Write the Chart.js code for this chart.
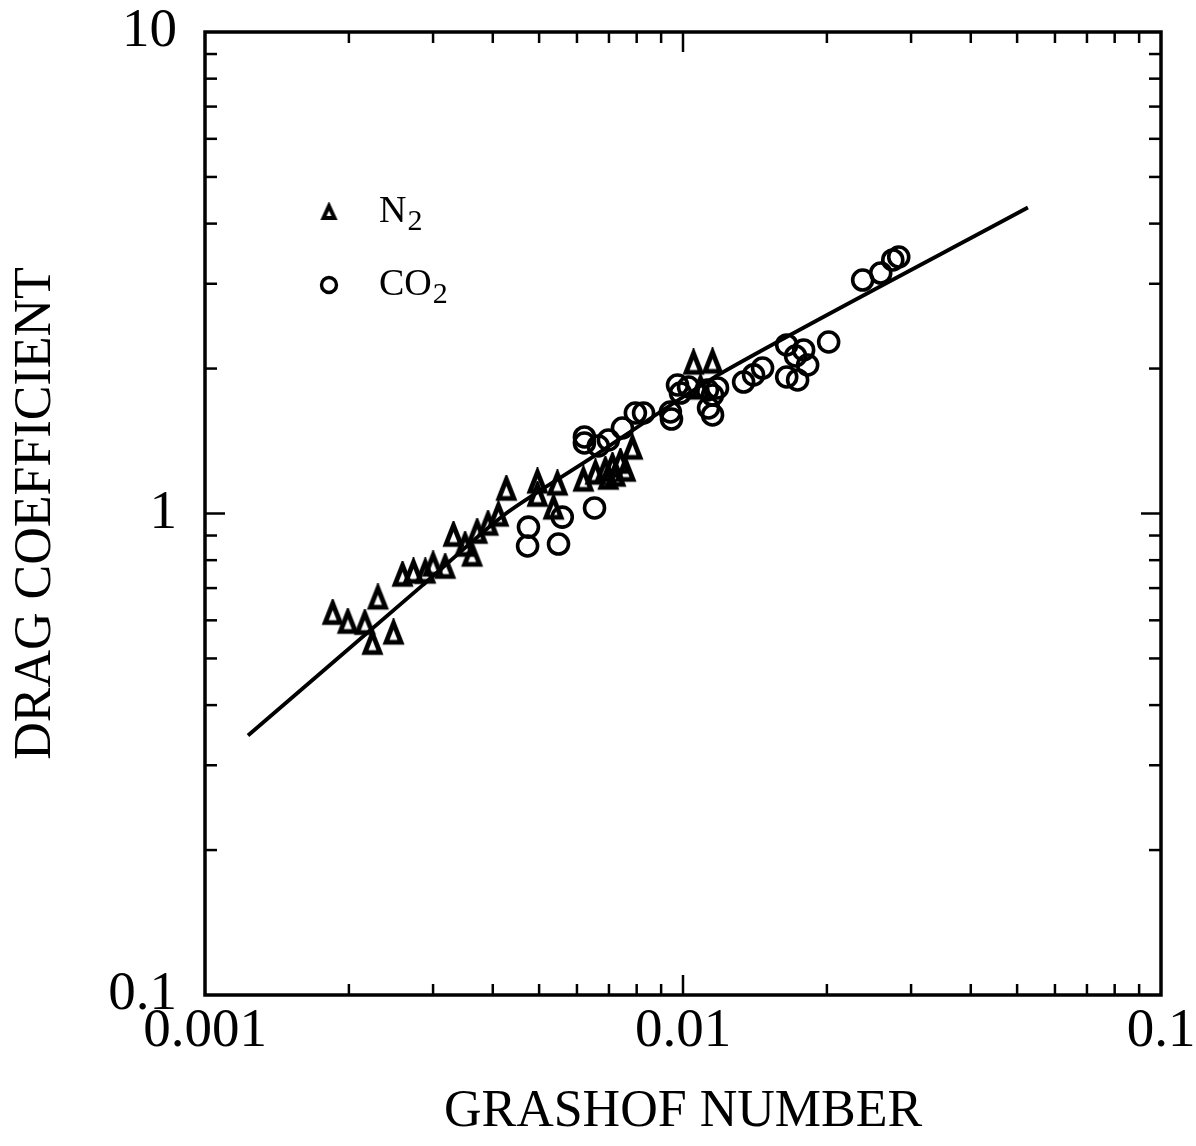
<!DOCTYPE html>
<html>
<head>
<meta charset="utf-8">
<script src="https://cdn.jsdelivr.net/npm/chart.js@4.4.1/dist/chart.umd.min.js"></script>
<style>
  html, body { margin: 0; padding: 0; background: #fff; }
  #wrap { width: 1196px; height: 1146px; position: relative; }
</style>
</head>
<body>
<div id="wrap"><canvas id="c"></canvas></div>
<script>
// axis ticks (log scales)
const xTickLabels = [0.001, 0.01, 0.1];
const yTickLabels = [0.1, 1, 10];
const xMinorTicks = [0.002, 0.003, 0.004, 0.005, 0.006, 0.007, 0.008, 0.009,
                     0.02, 0.03, 0.04, 0.05, 0.06, 0.07, 0.08, 0.09];
const yMinorTicks = [0.2, 0.3, 0.4, 0.5, 0.6, 0.7, 0.8, 0.9,
                     2, 3, 4, 5, 6, 7, 8, 9];
const xMajorInner = [0.01];
const yMajorInner = [1];

// N2 measurements (triangles)
const n2Grashof = [0.00185, 0.00199, 0.00216, 0.00224, 0.00230, 0.00248, 0.00259, 0.00273,
                   0.00289, 0.00300, 0.00318, 0.00331, 0.00350, 0.00362, 0.00371, 0.00391,
                   0.00411, 0.00427, 0.00496, 0.00496, 0.00546, 0.00536, 0.00619, 0.00656,
                   0.00688, 0.00712, 0.00740, 0.00784, 0.01052, 0.01153, 0.00722, 0.00758,
                   0.00698, 0.01088];
const n2Drag = [0.621, 0.595, 0.592, 0.538, 0.668, 0.565, 0.745, 0.756,
                0.756, 0.782, 0.774, 0.902, 0.860, 0.820, 0.915, 0.951,
                0.993, 1.124, 1.163, 1.092, 1.152, 1.027, 1.174, 1.214,
                1.231, 1.255, 1.279, 1.368, 2.054, 2.064, 1.202, 1.231,
                1.185, 1.823];

// CO2 measurements (circles)
const co2Grashof = [0.00475, 0.00473, 0.00559, 0.00549, 0.00653, 0.00622, 0.00622, 0.00665,
                    0.00698, 0.00747, 0.00795, 0.00827, 0.00941, 0.00946, 0.00974, 0.00988,
                    0.01027, 0.01125, 0.01153, 0.01181, 0.01131, 0.01153, 0.01339, 0.01405,
                    0.01467, 0.01648, 0.01648, 0.01737, 0.01720, 0.01788, 0.01823, 0.02017,
                    0.02376, 0.02592, 0.02747, 0.02827];
const co2Drag = [0.937, 0.856, 0.983, 0.864, 1.027, 1.442, 1.401, 1.381,
                 1.421, 1.505, 1.617, 1.617, 1.625, 1.571, 1.849, 1.779,
                 1.831, 1.805, 1.762, 1.823, 1.656, 1.602, 1.875, 1.940,
                 2.005, 2.239, 1.921, 1.894, 2.124, 2.186, 2.034, 2.271,
                 3.054, 3.158, 3.362, 3.410];

// fitted curve
const fitGrashof = [0.00123, 0.00285, 0.00421, 0.00631, 0.01198, 0.05267];
const fitDrag = [0.346, 0.709, 0.991, 1.289, 1.953, 4.320];

const FONT = '"Liberation Serif", "DejaVu Serif", serif';
Chart.defaults.font.family = FONT;
Chart.defaults.color = '#000';

function triangleImage(w, h, lw) {
  const c = document.createElement('canvas');
  c.width = Math.ceil(w + lw * 2);
  c.height = Math.ceil(h + lw * 2);
  const g = c.getContext('2d');
  g.strokeStyle = '#000';
  g.lineWidth = lw;
  g.lineJoin = 'miter';
  g.beginPath();
  g.moveTo(c.width / 2, lw);
  g.lineTo(c.width / 2 + w / 2, lw + h);
  g.lineTo(c.width / 2 - w / 2, lw + h);
  g.closePath();
  g.stroke();
  return c;
}
const triMark = triangleImage(15, 19, 4.8);
const triLegend = triangleImage(11, 12, 4);

const toPts = (xs, ys) => xs.map((x, i) => ({ x, y: ys[i] }));

function tickLine(ctx, x1, y1, x2, y2) {
  ctx.beginPath();
  ctx.moveTo(x1, y1);
  ctx.lineTo(x2, y2);
  ctx.stroke();
}

// frame with inward ticks on all four sides
const frameTicks = {
  id: 'frameTicks',
  afterDatasetsDraw(chart) {
    const { ctx, chartArea: a, scales: { x, y } } = chart;
    ctx.save();
    ctx.strokeStyle = '#000';
    ctx.lineWidth = 2.5;
    xMinorTicks.forEach(v => {
      const px = x.getPixelForValue(v);
      tickLine(ctx, px, a.bottom, px, a.bottom - 11);
      tickLine(ctx, px, a.top, px, a.top + 11);
    });
    xMajorInner.forEach(v => {
      const px = x.getPixelForValue(v);
      tickLine(ctx, px, a.bottom, px, a.bottom - 20);
      tickLine(ctx, px, a.top, px, a.top + 20);
    });
    yMinorTicks.forEach(v => {
      const py = y.getPixelForValue(v);
      tickLine(ctx, a.left, py, a.left + 12, py);
      tickLine(ctx, a.right, py, a.right - 12, py);
    });
    yMajorInner.forEach(v => {
      const py = y.getPixelForValue(v);
      tickLine(ctx, a.left, py, a.left + 20, py);
      tickLine(ctx, a.right, py, a.right - 20, py);
    });
    ctx.lineWidth = 3.5;
    ctx.strokeRect(a.left, a.top, a.width, a.height);
    ctx.restore();
  }
};

// legend with subscripted digits
const legendBox = {
  id: 'legendBox',
  afterDraw(chart) {
    const { ctx, chartArea: a } = chart;
    const rows = chart.data.datasets.filter(d => d.inLegend);
    ctx.save();
    ctx.fillStyle = '#000';
    ctx.textBaseline = 'middle';
    rows.forEach((d, i) => {
      const mx = a.left + 124;
      const my = a.top + 180 + i * 73;
      if (d.legendMark === 'tri') {
        ctx.drawImage(triLegend, mx - triLegend.width / 2, my - triLegend.height / 2);
      } else {
        ctx.lineWidth = 3.4;
        ctx.strokeStyle = '#000';
        ctx.beginPath();
        ctx.arc(mx, my, 7.5, 0, Math.PI * 2);
        ctx.stroke();
      }
      const m = d.label.match(/^([A-Za-z]+)(\d*)$/);
      ctx.font = '38px ' + FONT;
      const tx = mx + 50;
      ctx.fillText(m[1], tx, my);
      const w = ctx.measureText(m[1]).width;
      ctx.font = '30px ' + FONT;
      ctx.fillText(m[2], tx + w + 1, my + 10);
    });
    ctx.restore();
  }
};

new Chart(document.getElementById('c'), {
  type: 'scatter',
  data: {
    datasets: [
      {
        label: 'fit',
        data: toPts(fitGrashof, fitDrag),
        showLine: true,
        borderColor: '#000',
        borderWidth: 3.8,
        pointRadius: 0,
        tension: 0.25,
        order: 3
      },
      {
        label: 'N2',
        inLegend: true,
        legendMark: 'tri',
        data: toPts(n2Grashof, n2Drag),
        pointStyle: triMark,
        pointRadius: 10,
        order: 2
      },
      {
        label: 'CO2',
        inLegend: true,
        legendMark: 'circ',
        data: toPts(co2Grashof, co2Drag),
        pointStyle: 'circle',
        pointRadius: 10,
        borderWidth: 3.6,
        borderColor: '#000',
        backgroundColor: 'rgba(0,0,0,0)',
        order: 1
      }
    ]
  },
  options: {
    responsive: true,
    maintainAspectRatio: false,
    animation: false,
    layout: { padding: { top: 32, right: 35, left: 0, bottom: 0 } },
    plugins: { legend: { display: false }, tooltip: { enabled: false } },
    scales: {
      x: {
        type: 'logarithmic',
        min: 0.001,
        max: 0.1,
        afterBuildTicks: s => { s.ticks = xTickLabels.map(v => ({ value: v })); },
        afterFit: s => { s.height = 151; s.paddingLeft = 0; s.paddingRight = 0; },
        ticks: {
          callback: v => String(v),
          autoSkip: false,
          maxRotation: 0,
          padding: 9,
          font: { size: 55, lineHeight: 1 }
        },
        grid: { display: false, drawTicks: false },
        border: { display: false },
        title: {
          display: true,
          text: 'GRASHOF NUMBER',
          font: { size: 52, lineHeight: 1.2 },
          padding: { top: 0, bottom: 2 }
        }
      },
      y: {
        type: 'logarithmic',
        min: 0.1,
        max: 10,
        afterBuildTicks: s => { s.ticks = yTickLabels.map(v => ({ value: v })); },
        afterFit: s => { s.width = 205; s.paddingTop = 0; s.paddingBottom = 0; },
        ticks: {
          callback: v => String(v),
          autoSkip: false,
          padding: 28,
          font: { size: 55, lineHeight: 1 }
        },
        grid: { display: false, drawTicks: false },
        border: { display: false },
        title: {
          display: true,
          text: 'DRAG COEFFICIENT',
          font: { size: 52, lineHeight: 1.2 },
          padding: { top: 5, bottom: 0 }
        }
      }
    }
  },
  plugins: [frameTicks, legendBox]
});
</script>
</body>
</html>
